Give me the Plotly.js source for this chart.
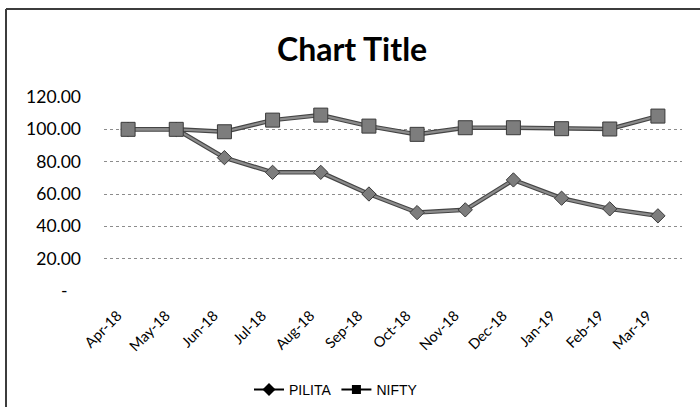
<!DOCTYPE html>
<html>
<head>
<meta charset="utf-8">
<script src="https://cdn.plot.ly/plotly-3.0.1.min.js"></script>
<style>
html,body{margin:0;padding:0;background:#fff;overflow:hidden;}
#wrap{position:relative;width:700px;height:407px;overflow:hidden;}
#chart{position:absolute;left:0;top:0;width:700px;height:407px;}
</style>
</head>
<body>
<div id="wrap"><div id="chart"></div></div>
<script>
const months = ["Apr-18","May-18","Jun-18","Jul-18","Aug-18","Sep-18","Oct-18","Nov-18","Dec-18","Jan-19","Feb-19","Mar-19"];
const pilita = [100, 100, 82.5, 73.4, 73.4, 60, 48.5, 50.2, 68.7, 57.4, 50.8, 46.5];
const nifty  = [100, 100, 98.5, 105.7, 108.8, 102, 96.9, 101, 101, 100.4, 100.2, 108.2];
const yTickVals = [0, 20, 40, 60, 80, 100, 120];
const yTickText = ["-\u00a0\u00a0\u00a0", "20.00", "40.00", "60.00", "80.00", "100.00", "120.00"];
const xTickText = months.map(m => m + "\u00a0\u00a0\u00a0\u00a0");

const edge = {color: "#454545", width: 4.5};
const core = {color: "#8c8c8c", width: 2.2};
const traces = [
  {x: months, y: pilita, mode: "lines", showlegend: false, line: edge, hoverinfo: "skip"},
  {x: months, y: nifty, mode: "lines", showlegend: false, line: edge, hoverinfo: "skip"},
  {x: months, y: pilita, name: "PILITA", mode: "lines+markers", showlegend: false,
   line: core, marker: {symbol: "diamond", size: 11, color: "#7d7d7d", line: {color: "#3a3a3a", width: 1}}},
  {x: months, y: nifty, name: "NIFTY", mode: "lines+markers", showlegend: false,
   line: core, marker: {symbol: "square", size: 14, color: "#7d7d7d", line: {color: "#3a3a3a", width: 1}}},
  {x: [null], y: [null], name: "PILITA", mode: "lines+markers",
   line: {color: "#000", width: 2}, marker: {symbol: "diamond", size: 10, color: "#000"}},
  {x: [null], y: [null], name: "NIFTY", mode: "lines+markers",
   line: {color: "#000", width: 2}, marker: {symbol: "square", size: 9, color: "#000"}}
];

// frame edges (top and left) in paper units derived from the margins
const L = 104, R = 18, T = 97, B = 116, W = 700, H = 407;
const pw = W - L - R, ph = H - T - B;
const fx0 = (6 - L) / pw, fx1 = (W - L) / pw;
const fy0 = (H - B - 9) / ph, fy1 = (H - B - H) / ph;

const layout = {
  width: W, height: H,
  margin: {l: L, r: R, t: T, b: B},
  paper_bgcolor: "#fff", plot_bgcolor: "#fff",
  title: {text: "Chart Title", font: {family: "Lato", size: 32, color: "#000", weight: "bold"},
          x: 0.503, xref: "container", y: 0.877, yref: "container", yanchor: "middle"},
  xaxis: {type: "category", categoryorder: "array", categoryarray: months, range: [-0.5, 11.5],
          tickvals: months, ticktext: xTickText,
          tickangle: -45, showgrid: false, showline: false, zeroline: false, ticks: "", ticklabelstandoff: 2,
          automargin: false,
          tickfont: {family: "Lato", size: 14.5, color: "#000"}, fixedrange: true},
  yaxis: {range: [0, 120], tickvals: yTickVals, ticktext: yTickText, showline: false, zeroline: false,
          gridcolor: "#8c8c8c", griddash: "dot", gridwidth: 1, ticks: "", ticklabelstandoff: 22,
          automargin: false,
          tickfont: {family: "Lato", size: 17.5, color: "#000"}, fixedrange: true},
  legend: {orientation: "h", x: 0.48, xref: "container", xanchor: "center", y: 0.042, yref: "container", yanchor: "middle",
           font: {family: "Liberation Sans", size: 14, color: "#000"}, itemwidth: 30, bgcolor: "rgba(0,0,0,0)"},
  shapes: [
    {type: "line", xref: "paper", yref: "paper", x0: fx0, x1: fx1, y0: fy0, y1: fy0, line: {color: "#3c3c3c", width: 2}},
    {type: "line", xref: "paper", yref: "paper", x0: fx0, x1: fx0, y0: fy0, y1: fy1, line: {color: "#3c3c3c", width: 2}}
  ]
};
Plotly.newPlot("chart", traces, layout, {displayModeBar: false, staticPlot: true});
</script>
</body>
</html>
